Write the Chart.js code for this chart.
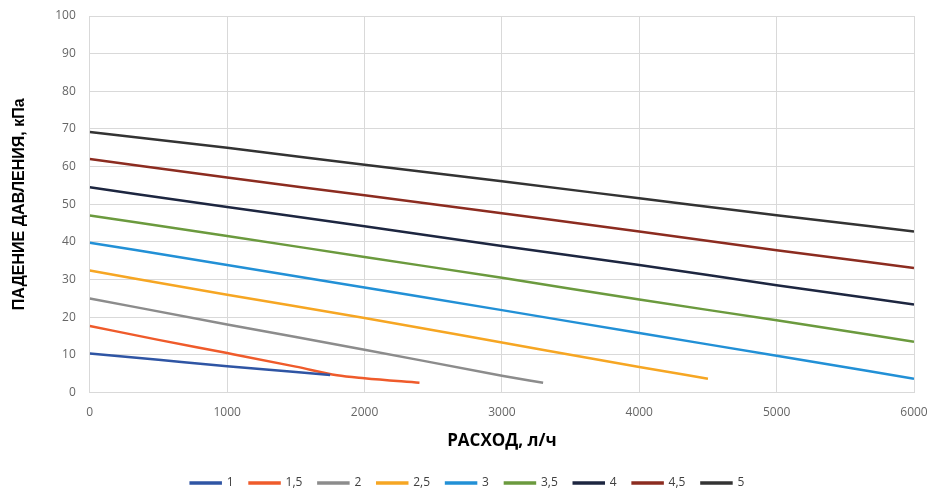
<!DOCTYPE html>
<html lang="ru">
<head>
<meta charset="UTF-8" />
<title>Падение давления</title>
<script src="https://cdn.jsdelivr.net/npm/chart.js"></script>
<style>
  html, body { margin: 0; padding: 0; background: #ffffff; }
  .wrap { position: relative; width: 931px; height: 488px; }
</style>
</head>
<body>
<div class="wrap"><canvas id="dpChart"></canvas></div>
<script>
  // расход, л/ч
  const flowFull = [0, 1000, 2000, 3000, 4000, 5000, 6000];
  const flow1 = [0, 500, 1000, 1750];
  const flow15 = [0, 500, 1000, 1500, 1800, 2000, 2400];
  const flow2 = [0, 1000, 2000, 3000, 3300];
  const flow25 = [0, 1000, 2000, 3000, 4000, 4500];

  // падение давления, кПа
  const p1 = [10.4, 8.7, 7.0, 4.7];
  const p15 = [17.7, 14.0, 10.5, 6.9, 4.6, 3.8, 2.6];
  const p2 = [25.0, 18.1, 11.4, 4.5, 2.6];
  const p25 = [32.4, 26.0, 19.8, 13.3, 6.8, 3.7];
  const p3 = [39.8, 33.9, 27.9, 21.9, 15.8, 9.8, 3.7];
  const p35 = [47.0, 41.6, 36.0, 30.5, 24.7, 19.2, 13.5];
  const p4 = [54.5, 49.3, 44.2, 38.9, 33.9, 28.5, 23.4];
  const p45 = [62.0, 57.1, 52.4, 47.6, 42.8, 37.8, 33.1];
  const p5 = [69.2, 65.0, 60.5, 56.1, 51.6, 47.1, 42.8];

  const seriesNames = ["1", "1,5", "2", "2,5", "3", "3,5", "4", "4,5", "5"];
  const seriesFlows = [flow1, flow15, flow2, flow25, flowFull, flowFull, flowFull, flowFull, flowFull];
  const seriesValues = [p1, p15, p2, p25, p3, p35, p4, p45, p5];
  const colors = ["#2f55a4", "#ef5b2b", "#8c8c8c", "#f6a623", "#2290d6", "#6b9a3e", "#1d2640", "#8c2c20", "#333333"];

  const datasets = seriesNames.map((name, i) => ({
    label: name,
    data: seriesFlows[i].map((x, j) => ({ x: x, y: seriesValues[i][j] })),
    borderColor: colors[i],
    backgroundColor: colors[i],
    borderWidth: 2.5,
    pointRadius: 0,
    tension: 0.3,
    cubicInterpolationMode: "monotone",
    fill: false
  }));

  const tickFont = { family: "'Open Sans', sans-serif", size: 12 };

  // легенда ближе к нижнему краю
  const legendShift = {
    id: "legendShift",
    afterInit(chart) {
      const orig = chart.legend.fit;
      chart.legend.fit = function () {
        orig.call(this);
        this.height -= 11;
      };
    }
  };

  new Chart(document.getElementById("dpChart"), {
    type: "line",
    data: { datasets: datasets },
    plugins: [legendShift],
    options: {
      responsive: true,
      maintainAspectRatio: false,
      animation: false,
      layout: { padding: { left: 4, right: 0, top: 0, bottom: 0 } },
      scales: {
        x: {
          type: "linear",
          min: 0,
          max: 6000,
          afterFit: (scale) => { scale.paddingRight = 17; },
          ticks: {
            stepSize: 1000, color: "#666666", font: tickFont, padding: 13,
            callback: (v) => String(v)
          },
          grid: { color: "#d9d9d9", lineWidth: 1, drawTicks: false },
          border: { color: "#d9d9d9" },
          title: {
            display: true, text: "РАСХОД, л/ч", color: "#000000",
            font: { family: "'Open Sans', sans-serif", size: 17, weight: "bold", lineHeight: 1.0 },
            padding: { top: 0, bottom: 11 }
          }
        },
        y: {
          min: 0,
          max: 100,
          afterFit: (scale) => { scale.paddingTop = 16; },
          ticks: { stepSize: 10, color: "#666666", font: tickFont, padding: 14 },
          grid: { color: "#d9d9d9", lineWidth: 1, drawTicks: false },
          border: { color: "#d9d9d9" },
          title: {
            display: true, text: "ПАДЕНИЕ ДАВЛЕНИЯ, кПа", color: "#000000",
            font: { family: "'Liberation Sans', Arial, sans-serif", size: 16, weight: "bold" },
            padding: { top: 6, bottom: 12 }
          }
        }
      },
      plugins: {
        legend: {
          position: "bottom",
          labels: {
            boxWidth: 30,
            boxHeight: 1,
            padding: 16,
            color: "#404040",
            font: tickFont
          }
        },
        tooltip: { enabled: false }
      }
    }
  });
</script>
</body>
</html>
